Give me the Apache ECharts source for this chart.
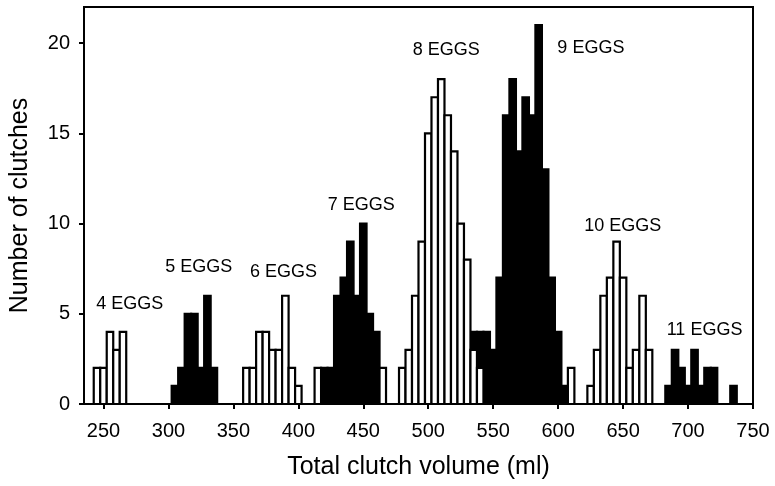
<!DOCTYPE html>
<html>
<head>
<meta charset="utf-8">
<script src="https://cdn.jsdelivr.net/npm/echarts@6.0.0/dist/echarts.min.js"></script>
<style>
    html, body {margin: 0; padding: 0; background: #fff;}
    #container {width: 775px; height: 486px;}
</style>
</head>
<body>
<div id="container"></div>
<script>
// bin centres (ml) and counts, 5 ml bins
var binWidth = 5;
var evenBins = [245, 250, 255, 260, 265,
    360, 365, 370, 375, 380, 385, 390, 395, 400,
    415, 465,
    480, 485, 490, 495, 500, 505, 510, 515, 520, 525, 530, 535, 540,
    610,
    625, 630, 635, 640, 645, 650, 655, 660, 665, 670];
var evenCounts = [2, 2, 4, 3, 4,
    2, 2, 4, 4, 3, 3, 6, 2, 1,
    2, 2,
    2, 3, 6, 9, 15, 17, 18, 16, 14, 10, 8, 3, 2,
    2,
    1, 3, 6, 7, 9, 7, 2, 3, 6, 3];
var oddBins = [305, 310, 315, 320, 325, 330, 335,
    420, 425, 430, 435, 440, 445, 450, 455, 460,
    535, 540, 545, 550, 555, 560, 565, 570, 575, 580, 585, 590, 595, 600, 605,
    685, 690, 695, 700, 705, 710, 715, 720, 735];
var oddCounts = [1, 2, 5, 5, 2, 6, 2,
    2, 2, 6, 7, 9, 6, 10, 5, 4,
    4, 4, 4, 3, 7, 16, 18, 14, 17, 16, 21, 13, 7, 4, 1,
    1, 3, 2, 1, 3, 1, 2, 2, 1];
var xTicks = [250, 300, 350, 400, 450, 500, 550, 600, 650, 700, 750];
var yTicks = [0, 5, 10, 15, 20];
// group labels, placed in data units
var groupNames = ['4 EGGS', '5 EGGS', '6 EGGS', '7 EGGS', '8 EGGS', '9 EGGS', '10 EGGS', '11 EGGS'];
var groupX = [270.3, 323.3, 388.6, 448.5, 513.8, 625.2, 649.7, 712.7];
var groupY = [5.55, 7.6, 7.3, 11.0, 19.6, 19.7, 9.87, 4.1];

function pairs(xs, ys) {
    var out = [];
    for (var i = 0; i < xs.length; i++) {
        out.push([xs[i], ys[i]]);
    }
    return out;
}

function binRenderer(fill) {
    return function (params, api) {
        var c = api.value(0);
        var n = api.value(1);
        var p0 = api.coord([c - binWidth / 2, n]);
        var p1 = api.coord([c + binWidth / 2, 0]);
        return {
            type: 'rect',
            shape: {x: p0[0], y: p0[1], width: p1[0] - p0[0], height: p1[1] - p0[1]},
            style: {fill: fill, stroke: '#000', lineWidth: 2.2}
        };
    };
}

var labelData = [];
for (var i = 0; i < groupNames.length; i++) {
    labelData.push({name: groupNames[i], value: [groupX[i], groupY[i]]});
}

var font = 'Liberation Sans, Arial, sans-serif';
var chart = echarts.init(document.getElementById('container'));
var option = {
    animation: false,
    grid: {
        left: 82, right: 22, top: 7, bottom: 82,
        show: true, borderColor: '#000', borderWidth: 2, backgroundColor: 'transparent'
    },
    xAxis: {
        type: 'value',
        min: 235,
        max: 750,
        name: 'Total clutch volume (ml)',
        nameLocation: 'middle',
        nameGap: 51,
        nameTextStyle: {color: '#000', fontSize: 25, fontFamily: font},
        splitLine: {show: false},
        axisLine: {lineStyle: {color: '#000', width: 2}},
        axisTick: {length: 5, lineStyle: {color: '#000', width: 2}, customValues: xTicks},
        axisLabel: {color: '#000', fontSize: 20, fontFamily: font, margin: 17, customValues: xTicks}
    },
    yAxis: {
        type: 'value',
        min: 0,
        max: 22,
        name: 'Number of clutches',
        nameLocation: 'middle',
        nameGap: 51,
        nameTextStyle: {color: '#000', fontSize: 25, fontFamily: font},
        splitLine: {show: false},
        axisLine: {show: true, lineStyle: {color: '#000', width: 2}},
        axisTick: {show: true, length: 5, lineStyle: {color: '#000', width: 2}, customValues: yTicks},
        axisLabel: {color: '#000', fontSize: 20, fontFamily: font, margin: 14, customValues: yTicks}
    },
    series: [
        {
            name: 'odd',
            type: 'custom',
            renderItem: binRenderer('#000'),
            encode: {x: 0, y: 1},
            data: pairs(oddBins, oddCounts)
        },
        {
            name: 'even',
            type: 'custom',
            renderItem: binRenderer('#fff'),
            encode: {x: 0, y: 1},
            data: pairs(evenBins, evenCounts)
        },
        {
            name: 'labels',
            type: 'scatter',
            symbolSize: 0,
            silent: true,
            itemStyle: {opacity: 1},
            label: {
                show: true,
                position: 'inside',
                formatter: '{b}',
                color: '#000',
                fontSize: 18,
                fontFamily: font
            },
            data: labelData
        }
    ]
};
chart.setOption(option);
</script>
</body>
</html>
